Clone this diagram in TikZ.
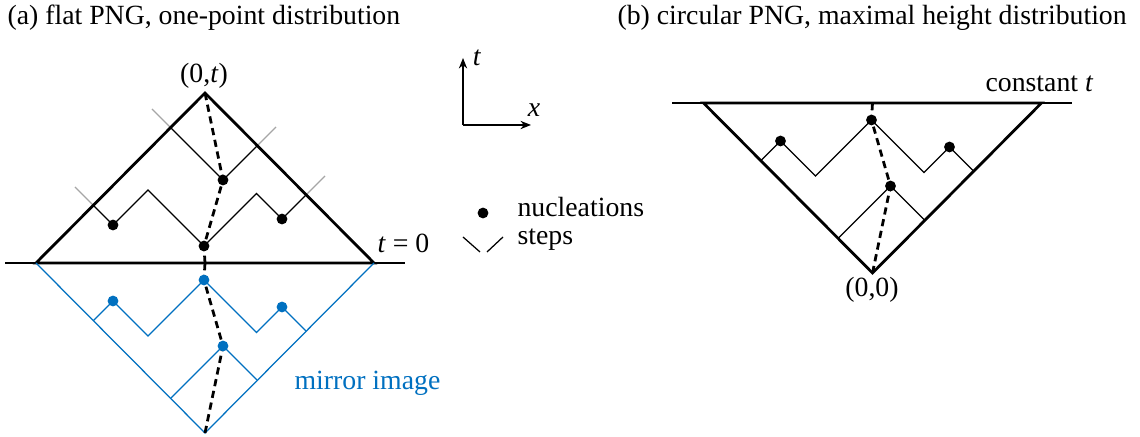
\documentclass[tikz,border=0pt]{standalone}
\usepackage{fontspec}
\setmainfont{Liberation Serif}
\usetikzlibrary{arrows.meta}

\definecolor{mirrorblue}{RGB}{0,112,192}

\tikzset{
  cone/.style={line width=1pt, line join=miter},
  stepline/.style={line width=0.45pt},
  stepext/.style={line width=0.45pt, gray!70},
  worldline/.style={line width=1pt, dash pattern=on 2.6pt off 1.7pt},
  nucl/.style={circle, fill, inner sep=0pt, minimum size=3.9pt},
  axis/.style={line width=0.45pt, -{Stealth[length=3.8pt, width=3pt]}},
}

% nucleations and steps of one cone, base centre at the origin
\newcommand\pngsteps[1]{%
  \coordinate (apex) at (0,170);
  \coordinate (o) at (0,0);
  \coordinate (A) at (18,83);
  \coordinate (B) at (-92,38);
  \coordinate (C) at (-1,17);
  \coordinate (D) at (77,44);
  \coordinate (A1) at (-34,135);
  \coordinate (A2) at (52,117);
  \coordinate (B1) at (-111.5,57.5);
  \coordinate (P1) at (-57,73);
  \coordinate (P2) at (51.5,69.5);
  \coordinate (D2) at (101,68);
  \draw[stepline,#1] (A1) -- (A) -- (A2);
  \draw[stepline,#1] (B1) -- (B) -- (P1) -- (C) -- (P2) -- (D) -- (D2);
  \draw[worldline] (apex) -- (A) -- (C) -- (o);
  \foreach \n in {A,B,C,D}
    \node[nucl,#1] (dot\n) at (\n) {};
}

\begin{document}
\begin{tikzpicture}[x=0.36pt, y=0.36pt, font=\fontsize{10}{12}\selectfont]
  \useasboundingbox (0,0) rectangle (1140,437);

  \node[anchor=base west, inner sep=0pt] (titlea) at (7,412) {(a) flat PNG, one-point distribution};
  \node[anchor=base west, inner sep=0pt] (titleb) at (617,412) {(b) circular PNG, maximal height distribution};

  % (a) flat PNG
  \coordinate (flatl) at (5,174);
  \coordinate (flatr) at (405,174);
  \draw[stepline] (flatl) -- (flatr);
  \begin{scope}[shift={(205,174)}]
    \coordinate (L) at (-169,0);
    \coordinate (R) at (169,0);
    \coordinate (T) at (0,170);
    \draw[stepext] (-53,154) -- (-34,135);
    \draw[stepext] (71,136) -- (52,117);
    \draw[stepext] (-130,76) -- (-111.5,57.5);
    \draw[stepext] (120,87) -- (101,68);
    \draw[cone] (L) -- (T) -- (R) -- cycle;
    \pngsteps{black}
  \end{scope}
  % mirror image
  \begin{scope}[shift={(205,174)}, yscale=-1]
    \draw[stepline, mirrorblue] (-169,0) -- (0,170) -- (169,0);
    \pngsteps{mirrorblue}
  \end{scope}

  \node[anchor=base, inner sep=0pt] (tip) at (204,354) {(0,\textit{t})};
  \node[anchor=base west, inner sep=0pt] (tzero) at (377,184) {\textit{t} = 0};
  \node[anchor=base west, inner sep=0pt, text=mirrorblue] (mirror) at (294,47) {mirror image};

  % axes and legend
  \coordinate (orig) at (463,312);
  \coordinate (tend) at (463,379);
  \coordinate (xend) at (531,312);
  \draw[axis] (orig) -- (tend);
  \draw[axis] (orig) -- (xend);
  \node (tlab) at (477,379) {\textit{t}};
  \node (xlab) at (534,327) {\textit{x}};

  \node[nucl] (legdot) at (483,224) {};
  \node[anchor=base west, inner sep=0pt] (legnucl) at (517,220) {nucleations};
  \coordinate (s1) at (463,200);
  \coordinate (s2) at (480,185);
  \coordinate (s3) at (487,185);
  \coordinate (s4) at (503,200);
  \draw[stepline] (s1) -- (s2);
  \draw[stepline] (s3) -- (s4);
  \node[anchor=base west, inner sep=0pt] (legsteps) at (517,192) {steps};

  % (b) circular PNG
  \coordinate (circl) at (672,334);
  \coordinate (circr) at (1072,334);
  \draw[stepline] (circl) -- (circr);
  \begin{scope}[shift={(872.5,334)}, yscale=-1]
    \coordinate (L) at (-169,0);
    \coordinate (R) at (169,0);
    \coordinate (T) at (0,170);
    \draw[cone] (L) -- (T) -- (R) -- cycle;
    \pngsteps{black}
  \end{scope}
  \node[anchor=base west, inner sep=0pt] (const) at (985,345) {constant \textit{t}};
  \node[anchor=base, inner sep=0pt] (origin) at (872,140) {(0,0)};
\end{tikzpicture}
\end{document}
